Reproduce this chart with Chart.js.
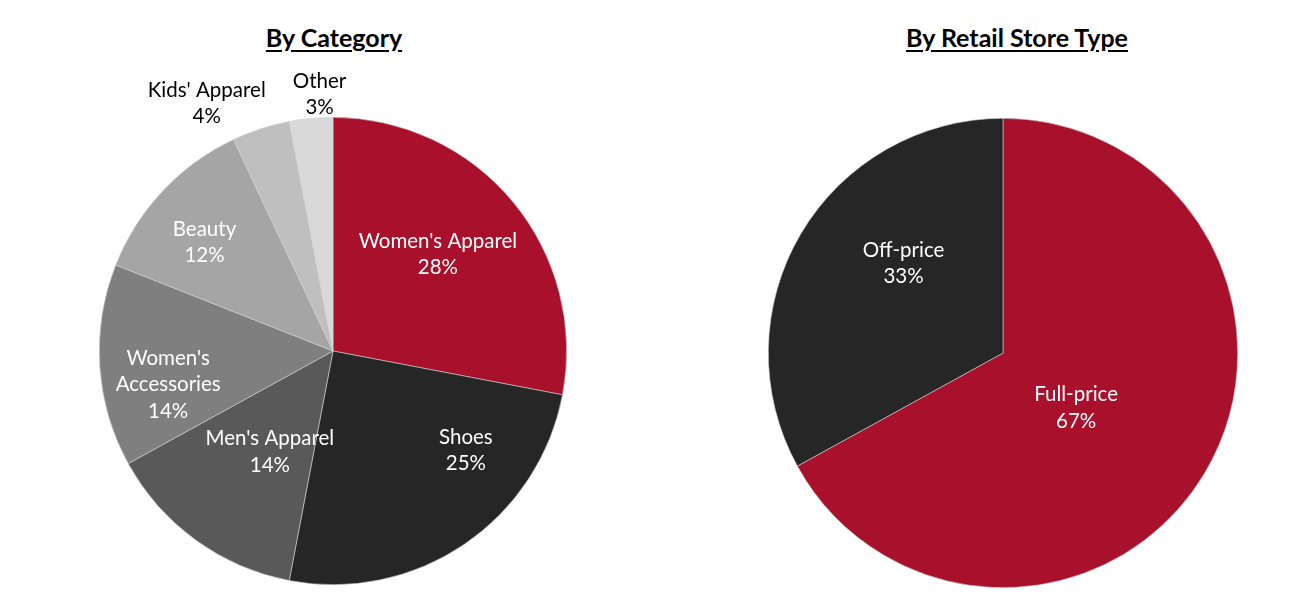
<!DOCTYPE html>
<html>
<head>
<meta charset="utf-8">
<script src="https://cdn.jsdelivr.net/npm/chart.js@4.4.1/dist/chart.umd.min.js"></script>
<style>
  body { margin: 0; background: #fff; font-family: Lato, "Open Sans", sans-serif; }
  .wrap { position: relative; width: 1302px; height: 614px; }
  .box { position: absolute; top: 0; width: 651px; height: 614px; }
  .title { position: absolute; top: 22px; font-weight: bold; font-size: 25px; text-decoration: underline;
           text-underline-offset: 3px; color: #000; transform: translateX(-50%); white-space: nowrap; }
</style>
</head>
<body>
<div class="wrap">
  <div class="title" style="left:334px">By Category</div>
  <div class="title" style="left:1017px">By Retail Store Type</div>
  <div class="box" style="left:0"><canvas id="pie-category"></canvas></div>
  <div class="box" style="left:651px"><canvas id="pie-store"></canvas></div>
</div>
<script>
// data: share of sales by category (%)
var categoryLabels = ["Women's Apparel", 'Shoes', "Men's Apparel", ["Women's", 'Accessories'], 'Beauty', "Kids' Apparel", 'Other'];
var categoryValues = [28, 25, 14, 14, 12, 4, 3];

// data: share by retail store type (%)
var storeLabels = ['Full-price', 'Off-price'];
var storeValues = [67, 33];

var categoryColors = ['#A8102B', '#262626', '#595959', '#7F7F7F', '#A5A5A5', '#BFBFBF', '#D9D9D9'];
var storeColors = ['#A8102B', '#262626'];

// label placement: radius fraction and angle shift (deg) per slice
var categoryLabelPos = [[0.61, -3], [0.71, -19], [0.51, -4], [0.72, -8], [0.72, -3], [1.19, -9], [1.1, 2.4]];
var categoryLabelColor = ['#fff', '#fff', '#fff', '#fff', '#fff', '#000', '#000'];
var storeLabelPos = [[0.39, 6.4], [0.57, 11.4]];
var storeLabelColor = ['#fff', '#fff'];

var sliceLabels = {
    id: 'sliceLabels',
    afterDatasetsDraw: function (chart, args, opts) {
        var ctx = chart.ctx;
        var meta = chart.getDatasetMeta(0);
        var values = chart.data.datasets[0].data;
        ctx.save();
        ctx.font = '20.5px Lato, "Open Sans", sans-serif';
        ctx.textAlign = 'center';
        ctx.textBaseline = 'middle';
        meta.data.forEach(function (arc, i) {
            var p = arc.getProps(['x', 'y', 'startAngle', 'endAngle', 'outerRadius'], true);
            var mid = (p.startAngle + p.endAngle) / 2 + opts.pos[i][1] * Math.PI / 180;
            var r = p.outerRadius * opts.pos[i][0];
            var cx = p.x + Math.cos(mid) * r;
            var cy = p.y + Math.sin(mid) * r;
            var lbl = chart.data.labels[i];
            var lines = (Array.isArray(lbl) ? lbl.slice() : [lbl]);
            lines.push(values[i] + '%');
            var lh = 26.5;
            var y0 = cy - (lines.length - 1) * lh / 2;
            ctx.fillStyle = opts.colors[i];
            lines.forEach(function (t, k) {
                ctx.fillText(t, cx, y0 + k * lh);
            });
        });
        ctx.restore();
    }
};

function makePie(id, labels, values, colors, pad, labelPos, labelColor) {
    return new Chart(document.getElementById(id), {
        type: 'pie',
        data: {
            labels: labels,
            datasets: [{
                data: values,
                backgroundColor: colors,
                borderWidth: 0.6,
                borderColor: '#d0d0d0'
            }]
        },
        options: {
            responsive: true,
            maintainAspectRatio: false,
            animation: false,
            layout: { padding: pad },
            plugins: {
                legend: { display: false },
                tooltip: { enabled: false },
                sliceLabels: { pos: labelPos, colors: labelColor }
            }
        },
        plugins: [sliceLabels]
    });
}

makePie('pie-category', categoryLabels, categoryValues, categoryColors,
    { left: 99, right: 84, top: 117, bottom: 29 }, categoryLabelPos, categoryLabelColor);
makePie('pie-store', storeLabels, storeValues, storeColors,
    { left: 117, right: 64, top: 118, bottom: 26 }, storeLabelPos, storeLabelColor);
</script>
</body>
</html>
